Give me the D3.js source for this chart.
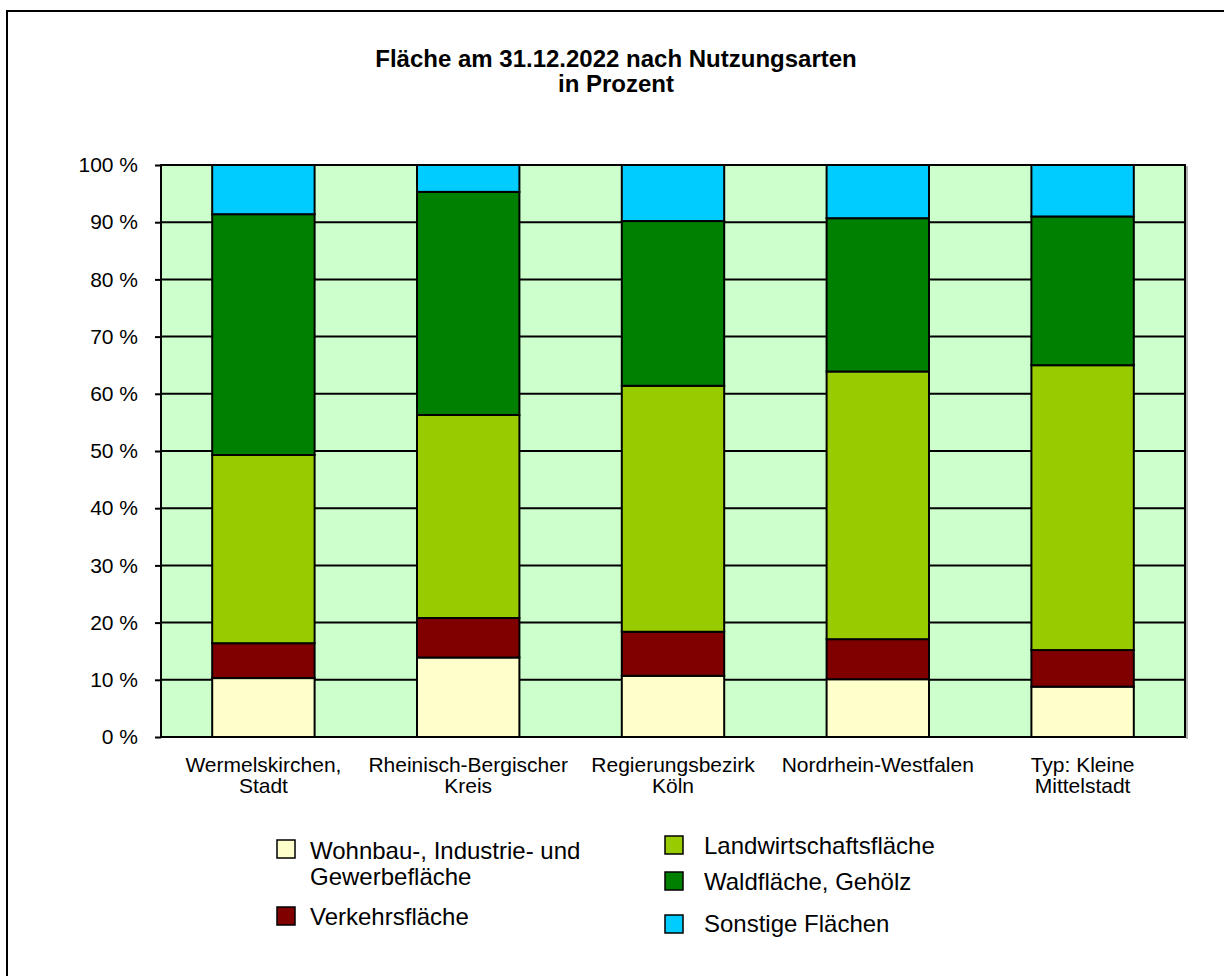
<!DOCTYPE html>
<html>
  <head>
    <meta charset="utf-8">
    <script src="https://d3js.org/d3.v7.min.js"></script>
    <style>
      body { margin: 0; background: #fff; font-family: "Liberation Sans", Arial, sans-serif; }
    </style>
  </head>
  <body>
    <div id="chart"></div>
    <script>
      // data (percent)
      var categories = [
        ["Wermelskirchen,", "Stadt"],
        ["Rheinisch-Bergischer", "Kreis"],
        ["Regierungsbezirk", "Köln"],
        ["Nordrhein-Westfalen"],
        ["Typ: Kleine", "Mittelstadt"]
      ];
      var wohnbau = [10.3, 13.9, 10.7, 10.1, 8.8];
      var verkehr = [6.1, 6.9, 7.7, 7.0, 6.4];
      var landwirtschaft = [32.9, 35.5, 43.0, 46.8, 49.8];
      var wald = [42.1, 39.0, 28.8, 26.8, 26.0];
      var sonstige = [8.6, 4.7, 9.8, 9.3, 9.0];
      var yTicks = [0, 10, 20, 30, 40, 50, 60, 70, 80, 90, 100];

      var seriesNames = ["Wohnbau-, Industrie- und Gewerbefläche", "Verkehrsfläche",
        "Landwirtschaftsfläche", "Waldfläche, Gehölz", "Sonstige Flächen"];
      var seriesVals = [wohnbau, verkehr, landwirtschaft, wald, sonstige];
      var colors = ["#FFFFCC", "#800000", "#99CC00", "#008000", "#00CCFF"];

      var W = 1224, H = 976;
      var svg = d3.select("#chart").append("svg").attr("width", W).attr("height", H)
        .style("display", "block");

      // outer frame
      svg.append("rect").attr("x", 7).attr("y", 11).attr("width", 1240).attr("height", 1000)
        .attr("fill", "none").attr("stroke", "#000").attr("stroke-width", 2);

      var pLeft = 161, pRight = 1185, pTop = 165, pBottom = 737;
      var keys = categories.map(function(c){ return c.join(" "); });

      var x = d3.scaleBand().domain(keys).range([pLeft, pRight]).paddingInner(0.5).paddingOuter(0.25);
      var y = d3.scaleLinear().domain([0, 100]).range([pBottom, pTop]);

      var rows = keys.map(function(k, i){
        var r = { key: k };
        seriesNames.forEach(function(s, j){ r[s] = seriesVals[j][i]; });
        return r;
      });
      var stacked = d3.stack().keys(seriesNames)(rows);

      // plot background
      svg.append("rect").attr("x", pLeft).attr("y", pTop).attr("width", pRight - pLeft).attr("height", pBottom - pTop)
        .attr("fill", "#CCFFCC");

      // gridlines
      svg.append("g").selectAll("line").data(yTicks).join("line")
        .attr("x1", pLeft).attr("x2", pRight)
        .attr("y1", function(d){ return y(d); }).attr("y2", function(d){ return y(d); })
        .attr("stroke", "#000").attr("stroke-width", 2);

      // bars
      svg.append("g").selectAll("g").data(stacked).join("g")
        .attr("fill", function(d, i){ return colors[i]; })
        .selectAll("rect").data(function(d){ return d; }).join("rect")
          .attr("x", function(d){ return x(d.data.key); })
          .attr("width", x.bandwidth())
          .attr("y", function(d){ return y(d[1]); })
          .attr("height", function(d){ return y(d[0]) - y(d[1]); })
          .attr("stroke", "#000").attr("stroke-width", 2);

      // plot frame, with the faint grey shadow on the right
      svg.append("line").attr("x1", pRight + 2).attr("x2", pRight + 2).attr("y1", pTop + 1).attr("y2", pBottom + 2)
        .attr("stroke", "#999").attr("stroke-width", 1.5);
      svg.append("rect").attr("x", pLeft).attr("y", pTop).attr("width", pRight - pLeft).attr("height", pBottom - pTop)
        .attr("fill", "none").attr("stroke", "#000").attr("stroke-width", 2);

      // y axis
      var yAxis = d3.axisLeft(y).tickValues(yTicks).tickSize(6).tickPadding(17)
        .tickFormat(function(d){ return d + " %"; });
      var ya = svg.append("g").attr("transform", "translate(" + pLeft + ",0)").call(yAxis);
      ya.select(".domain").remove();
      ya.selectAll(".tick line").attr("stroke", "#000").attr("stroke-width", 2);
      ya.selectAll(".tick text").attr("fill", "#000")
        .attr("font-family", "Liberation Sans, Arial, sans-serif").attr("font-size", 21);

      // x labels
      var xl = svg.append("g").selectAll("text").data(categories).join("text")
        .attr("x", function(d, i){ return x(keys[i]) + x.bandwidth() / 2; })
        .attr("y", 772)
        .attr("text-anchor", "middle")
        .attr("font-size", 21);
      xl.selectAll("tspan").data(function(d){ return d; }).join("tspan")
        .attr("x", function(){ return d3.select(this.parentNode).attr("x"); })
        .attr("dy", function(d, i){ return i === 0 ? 0 : 21; })
        .text(function(d){ return d; });

      // title
      var title = svg.append("text").attr("x", 616).attr("y", 67).attr("text-anchor", "middle")
        .attr("font-size", 24).attr("font-weight", "bold");
      title.append("tspan").attr("x", 616).text("Fläche am 31.12.2022 nach Nutzungsarten");
      title.append("tspan").attr("x", 616).attr("dy", 25).text("in Prozent");

      // legend
      var legend = [
        { i: 0, sx: 277, sy: 840, tx: 310, lines: ["Wohnbau-, Industrie- und", "Gewerbefläche"], ty: 859 },
        { i: 1, sx: 277, sy: 907, tx: 310, lines: ["Verkehrsfläche"], ty: 925 },
        { i: 2, sx: 665, sy: 836, tx: 704, lines: ["Landwirtschaftsfläche"], ty: 854 },
        { i: 3, sx: 665, sy: 872, tx: 704, lines: ["Waldfläche, Gehölz"], ty: 890 },
        { i: 4, sx: 665, sy: 915, tx: 704, lines: ["Sonstige Flächen"], ty: 932 }
      ];
      var lg = svg.append("g").selectAll("g").data(legend).join("g");
      lg.append("rect")
        .attr("x", function(d){ return d.sx; }).attr("y", function(d){ return d.sy; })
        .attr("width", 18).attr("height", 18)
        .attr("fill", function(d){ return colors[d.i]; })
        .attr("stroke", "#000").attr("stroke-width", 1.5);
      var lt = lg.append("text")
        .attr("x", function(d){ return d.tx; }).attr("y", function(d){ return d.ty; })
        .attr("font-size", 24);
      lt.selectAll("tspan").data(function(d){ return d.lines.map(function(l){ return { l: l, x: d.tx }; }); })
        .join("tspan")
        .attr("x", function(d){ return d.x; })
        .attr("dy", function(d, i){ return i === 0 ? 0 : 26; })
        .text(function(d){ return d.l; });
    </script>
  </body>
</html>
